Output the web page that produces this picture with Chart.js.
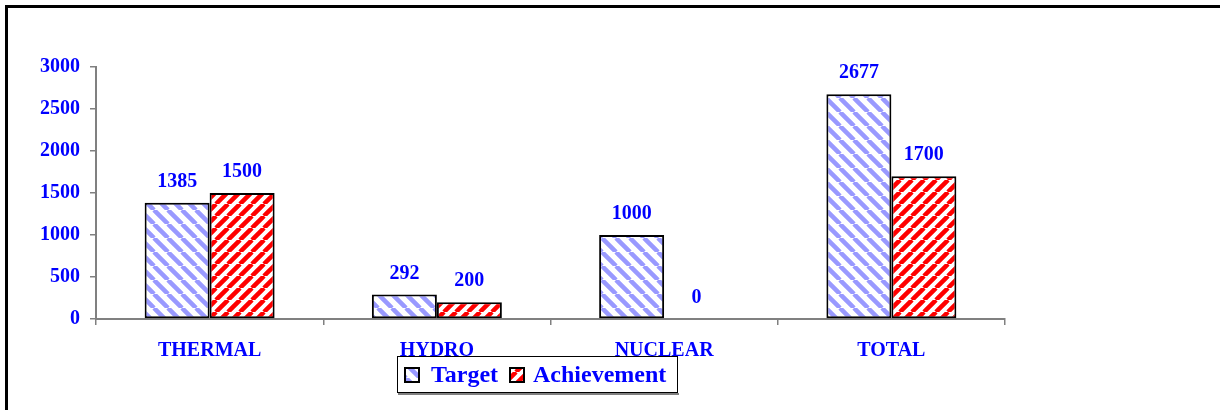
<!DOCTYPE html>
<html><head><meta charset="utf-8">
<script src="https://cdn.jsdelivr.net/npm/chart.js@4"></script>
<style>
html,body{margin:0;padding:0;background:#fff;overflow:hidden;}
#wrap{position:relative;width:1220px;height:410px;overflow:hidden;}
#frame{position:absolute;left:5px;top:5px;width:1300px;height:500px;border-left:3px solid #000;border-top:3px solid #000;}
canvas{position:absolute;left:0;top:0;}
</style></head><body>
<div id="wrap"><div id="frame"></div><canvas id="c" width="1220" height="410"></canvas></div>
<script>
const categories = ['THERMAL', 'HYDRO', 'NUCLEAR', 'TOTAL'];
const targetValues = [1385, 292, 1000, 2677];
const achievementValues = [1500, 200, 0, 1700];
const seriesNames = ['Target', 'Achievement'];
const yTicks = [0, 500, 1000, 1500, 2000, 2500, 3000];

const FONT = "'Liberation Serif', 'Times New Roman', serif";
const TEXT_BLUE = '#0000FF';

const canvas = document.getElementById('c');
const ctx = canvas.getContext('2d');

function makePattern(color, size, lineW, dir) {
  const c = document.createElement('canvas');
  c.width = size; c.height = size;
  const g = c.getContext('2d');
  g.fillStyle = '#fff';
  g.fillRect(0, 0, size, size);
  g.strokeStyle = color;
  g.lineWidth = lineW;
  g.beginPath();
  for (let k = -1; k <= 1; k++) {
    if (dir === 'down') { g.moveTo(k * size, 0); g.lineTo(k * size + size, size); }
    else { g.moveTo(k * size, size); g.lineTo(k * size + size, 0); }
  }
  g.stroke();
  return ctx.createPattern(c, 'repeat');
}

const bluePattern = makePattern('#9999FF', 14, 4.5, 'down');
const redPattern = makePattern('#FF0000', 12, 4.5, 'up');

const valueLabels = {
  id: 'valueLabels',
  afterDatasetsDraw(chart) {
    const c = chart.ctx;
    c.save();
    c.font = 'bold 20px ' + FONT;
    c.fillStyle = TEXT_BLUE;
    c.textAlign = 'center';
    c.textBaseline = 'middle';
    chart.data.datasets.forEach((ds, i) => {
      chart.getDatasetMeta(i).data.forEach((el, j) => {
        c.fillText(String(ds.data[j]), el.x, el.y - 21);
      });
    });
    c.restore();
  }
};

const customLegend = {
  id: 'customLegend',
  afterDraw(chart) {
    const c = chart.ctx;
    c.save();
    c.fillStyle = '#fff';
    c.fillRect(397, 356, 281, 37);
    c.strokeStyle = '#000';
    c.lineWidth = 1;
    c.strokeRect(397.5, 356.5, 280, 36);
    c.strokeStyle = '#808080';
    c.lineWidth = 2;
    c.beginPath();
    c.moveTo(398, 394); c.lineTo(679, 394);
    c.stroke();
    const items = [
      { x: 405, tx: 431, fill: chart.data.datasets[0].backgroundColor, label: chart.data.datasets[0].label },
      { x: 510, tx: 533, fill: chart.data.datasets[1].backgroundColor, label: chart.data.datasets[1].label }
    ];
    c.font = 'bold 24px ' + FONT;
    c.textBaseline = 'middle';
    c.textAlign = 'left';
    items.forEach(it => {
      c.fillStyle = it.fill;
      c.fillRect(it.x, 368, 14, 14);
      c.strokeStyle = '#000';
      c.lineWidth = 2;
      c.strokeRect(it.x, 368, 14, 14);
      c.fillStyle = TEXT_BLUE;
      c.fillText(it.label, it.tx, 376);
    });
    c.restore();
  }
};

new Chart(canvas, {
  type: 'bar',
  data: {
    labels: categories,
    datasets: [
      { label: seriesNames[0], data: targetValues, backgroundColor: bluePattern, borderColor: '#000', borderWidth: 2, borderSkipped: false },
      { label: seriesNames[1], data: achievementValues, backgroundColor: redPattern, borderColor: '#000', borderWidth: 2, borderSkipped: false }
    ]
  },
  options: {
    responsive: false,
    animation: false,
    layout: { padding: { left: 0, top: 67, right: 215, bottom: 0 } },
    datasets: { bar: { categoryPercentage: 0.572, barPercentage: 1 } },
    plugins: { legend: { display: false }, tooltip: { enabled: false } },
    scales: {
      x: {
        grid: { offset: true, drawOnChartArea: false, drawTicks: true, tickLength: 6, color: '#808080', lineWidth: 1.5 },
        border: { color: '#808080', width: 2 },
        ticks: { color: TEXT_BLUE, font: { family: FONT, size: 20, weight: 'bold' }, padding: 14, maxRotation: 0 },
        afterFit: s => { s.height = 91; }
      },
      y: {
        min: 0, max: 3000,
        afterBuildTicks: s => { s.ticks = yTicks.map(v => ({ value: v })); },
        grid: { drawOnChartArea: false, drawTicks: true, tickLength: 6, color: '#808080', lineWidth: 1.5 },
        border: { color: '#808080', width: 2 },
        ticks: { color: TEXT_BLUE, font: { family: FONT, size: 20, weight: 'bold' }, padding: 10, callback: v => String(v) },
        afterFit: s => { s.width = 96; }
      }
    }
  },
  plugins: [valueLabels, customLegend]
});
</script>
</body></html>
